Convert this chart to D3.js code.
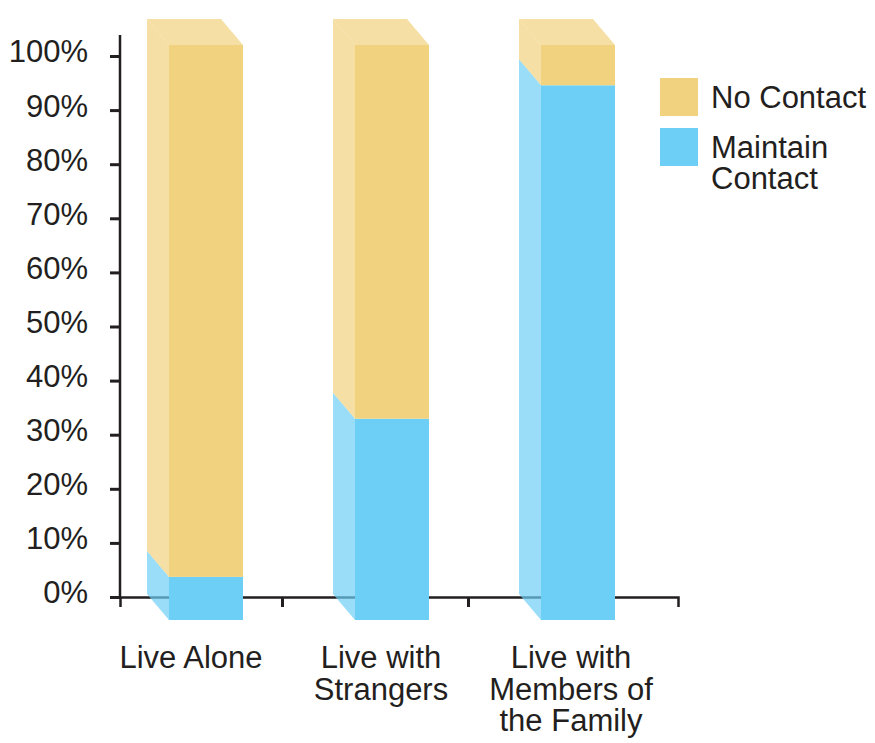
<!DOCTYPE html>
<html>
<head>
<meta charset="utf-8">
<script src="https://cdn.jsdelivr.net/npm/d3@7"></script>
<style>
  body { margin: 0; background: #fff; }
  text { font-family: "Liberation Sans", Arial, sans-serif; fill: #231f20; }
</style>
</head>
<body>
<svg width="875" height="743"></svg>
<script>
// data (percent)
const categories = ["Live Alone", "Live with Strangers", "Live with Members of the Family"];
const categoryLines = [["Live Alone"], ["Live with", "Strangers"], ["Live with", "Members of", "the Family"]];
const maintainContact = [7.5, 35, 93];
const noContact = [92.5, 65, 7];
const seriesNames = ["No Contact", "Maintain Contact"];
const seriesColors = ["#f1d27e", "#6dcff6"];
const yTicks = [0, 10, 20, 30, 40, 50, 60, 70, 80, 90, 100];

const svg = d3.select("svg");
const ink = "#231f20";
const fs = 31;

// scales
const x = d3.scaleBand().domain(categories).range([120, 678]).paddingInner(0).paddingOuter(0);
const yAxisScale = d3.scaleLinear().domain([0, 100]).range([597, 56]);
const yBar = d3.scaleLinear().domain([0, 100]).range([620, 45]);

const barOffset = 49, barW = 74;
const depthX = 22, depthY = 26;
const frontLeft = c => x(c) + barOffset;

// y axis
svg.append("line")
  .attr("x1", 120).attr("x2", 120)
  .attr("y1", 35).attr("y2", 597)
  .attr("stroke", ink).attr("stroke-width", 2.5);

const gy = svg.append("g")
  .attr("transform", "translate(120,0)")
  .call(d3.axisLeft(yAxisScale).tickValues(yTicks).tickFormat(d => d + "%").tickSize(10).tickPadding(22));
gy.select(".domain").remove();
gy.selectAll(".tick line").attr("stroke", ink).attr("stroke-width", 3);
gy.selectAll(".tick text")
  .attr("font-size", fs)
  .attr("font-family", null)
  .attr("dy", "0.32em")
  .attr("y", -4);

// x axis: ticks between the bars
const bounds = d3.range(categories.length - 1).map(i => {
  const right = frontLeft(categories[i]) + barW;
  const nextBack = frontLeft(categories[i + 1]) - depthX;
  return (right + nextBack) / 2 - 6;
});
const gx = svg.append("g")
  .attr("transform", "translate(0,597)")
  .call(d3.axisBottom(d3.scaleIdentity().domain([120, 678])).tickValues(bounds).tickSize(10).tickFormat(""));
gx.select(".domain").attr("stroke", ink).attr("stroke-width", 2.5);
gx.selectAll(".tick line").attr("stroke", ink).attr("stroke-width", 3);

// stacked 3d bars
const stackData = categories.map((c, i) => ({ cat: c, "Maintain Contact": maintainContact[i], "No Contact": noContact[i] }));
const stack = d3.stack().keys(["Maintain Contact", "No Contact"]);
const layers = stack(stackData);
const color = d3.scaleOrdinal().domain(seriesNames).range(seriesColors);

const bars = svg.append("g");
layers.forEach(layer => {
  const g = bars.append("g");
  // side faces, semi-transparent so the axis shows through
  g.selectAll("path.side")
    .data(layer)
    .join("path")
    .attr("class", "side")
    .attr("fill", color(layer.key))
    .attr("fill-opacity", 0.7)
    .attr("d", d => {
      const xl = frontLeft(d.data.cat);
      const t = yBar(d[1]), b = yBar(d[0]);
      return `M${xl - depthX},${t - depthY}L${xl},${t}L${xl},${b}L${xl - depthX},${b - depthY}Z`;
    });
  // front faces
  g.selectAll("rect")
    .data(layer)
    .join("rect")
    .attr("x", d => frontLeft(d.data.cat))
    .attr("width", barW)
    .attr("y", d => yBar(d[1]))
    .attr("height", d => yBar(d[0]) - yBar(d[1]))
    .attr("fill", color(layer.key));
});

// top faces
const topLayer = layers[layers.length - 1];
bars.selectAll("path.top")
  .data(topLayer)
  .join("path")
  .attr("class", "top")
  .attr("fill", color(topLayer.key))
  .attr("fill-opacity", 0.7)
  .attr("d", d => {
    const xl = frontLeft(d.data.cat);
    const t = yBar(d[1]);
    return `M${xl - depthX},${t - depthY}L${xl + barW - depthX},${t - depthY}L${xl + barW},${t}L${xl},${t}Z`;
  });

// category labels
const labelX = (c, i) => frontLeft(c) + (barW - depthX) / 2 + (i - 1) * 4;
const labels = svg.append("g")
  .selectAll("text")
  .data(categories)
  .join("text")
  .attr("text-anchor", "middle")
  .attr("font-size", fs)
  .attr("x", labelX)
  .attr("y", 668);
labels.selectAll("tspan")
  .data((c, i) => categoryLines[i].map(t => ({ t, x: labelX(c, i) })))
  .join("tspan")
  .attr("x", d => d.x)
  .attr("dy", (d, j) => j === 0 ? 0 : 31.5)
  .text(d => d.t);

// legend
const legend = svg.append("g").attr("transform", "translate(660,78)");
const items = legend.selectAll("g")
  .data(seriesNames)
  .join("g")
  .attr("transform", (d, i) => `translate(0,${i * 50})`);
items.append("rect")
  .attr("width", 38).attr("height", 38)
  .attr("fill", d => color(d));
items.append("text")
  .attr("x", 51)
  .attr("y", 30)
  .attr("font-size", fs)
  .selectAll("tspan")
  .data(d => d === "Maintain Contact" ? ["Maintain", "Contact"] : [d])
  .join("tspan")
  .attr("x", 51)
  .attr("dy", (d, j) => j === 0 ? 0 : 31)
  .text(d => d);
</script>
</body>
</html>
